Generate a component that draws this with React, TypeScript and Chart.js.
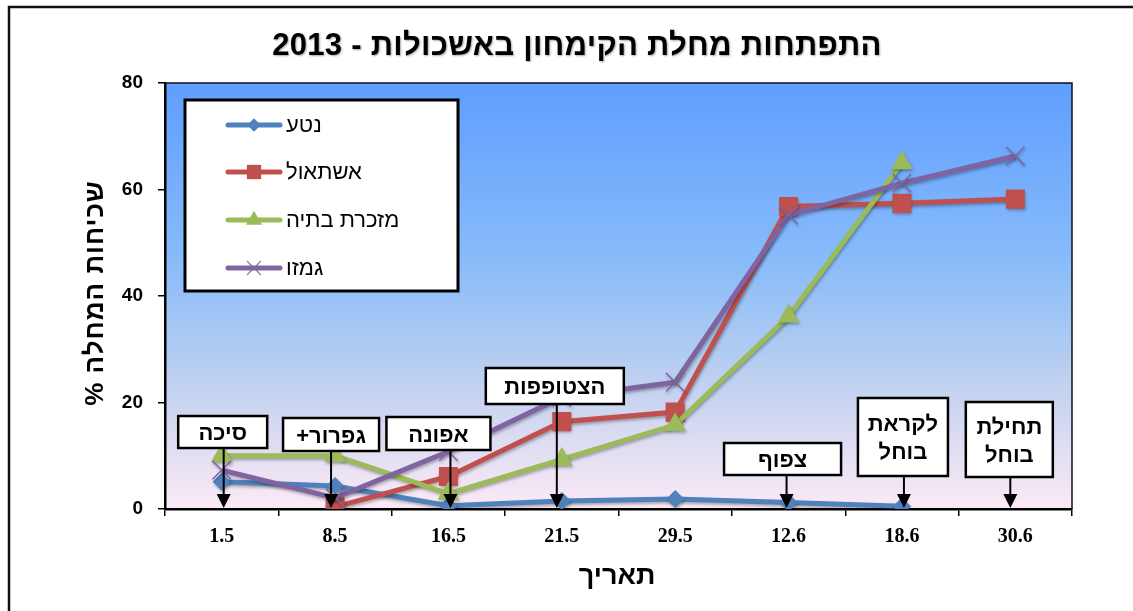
import React, { useEffect, useRef } from 'react';
import { Chart, registerables } from 'chart.js';

Chart.register(...registerables);

// ---------- data ----------
const categories = ['1.5', '8.5', '16.5', '21.5', '29.5', '12.6', '18.6', '30.6'];
const seriesNames = ['נטע', 'אשתאול', 'מזכרת בתיה', 'גמזו'];
const netaValues = [5.1, 4.3, 0.6, 1.5, 1.9, 1.2, 0.5, null];
const eshtaolValues = [null, 0.4, 6.1, 16.4, 18.2, 56.8, 57.4, 58.2];
const mazkeretValues = [10, 10, 2.9, 9.3, 15.8, 36.2, 65, null];
const gimzoValues = [7.3, 2.1, 10.8, 21, 23.8, 55.2, 61.2, 66.3];
const yTicks = [0, 20, 40, 60, 80];
const chartTitle = 'התפתחות מחלת הקימחון באשכולות - 2013';
const xTitle = 'תאריך';
const yTitle = 'שכיחות המחלה %';
const noteLabels = ['סיכה', 'גפרור+', 'אפונה', 'הצטופפות', 'צפוף', 'לקראת\nבוחל', 'תחילת\nבוחל'];
const noteCategories = ['1.5', '8.5', '16.5', '21.5', '12.6', '18.6', '30.6'];

// ---------- styles ----------
const seriesColors = ['#4F81BD', '#C0504D', '#9BBB59', '#8064A2'];
const seriesMarkers = ['rectRot', 'rect', 'triangle', 'crossRot'];
const seriesMarkerSize = [9, 13.5, 12.5, 13];
const noteLayout = [
  { dx: 1, arrowDx: 2, width: 89, top: 416, bottom: 448 },
  { dx: -4, arrowDx: -4, width: 96, top: 418, bottom: 451 },
  { dx: -10, arrowDx: 2, width: 104, top: 417, bottom: 450 },
  { dx: -7, arrowDx: -5, width: 138, top: 368, bottom: 404 },
  { dx: -6, arrowDx: -2, width: 117, top: 443, bottom: 475 },
  { dx: 1, arrowDx: 2, width: 90, top: 398, bottom: 476 },
  { dx: -6, arrowDx: -5, width: 87, top: 402, bottom: 477 },
];
const HEB_SANS = '"Liberation Sans", "DejaVu Sans", Arial, sans-serif';
const NUM_SERIF = '"Liberation Serif", "DejaVu Serif", serif';

function drawMarker(ctx: CanvasRenderingContext2D, style: string, x: number, y: number, r: number, color: string) {
  ctx.save();
  ctx.fillStyle = color;
  ctx.strokeStyle = color;
  ctx.beginPath();
  if (style === 'rectRot') {
    ctx.moveTo(x, y - r);
    ctx.lineTo(x + r, y);
    ctx.lineTo(x, y + r);
    ctx.lineTo(x - r, y);
    ctx.closePath();
    ctx.fill();
  } else if (style === 'rect') {
    const h = r * Math.SQRT1_2;
    ctx.rect(x - h, y - h, 2 * h, 2 * h);
    ctx.fill();
  } else if (style === 'triangle') {
    const s = Math.sin(Math.PI / 3) * r;
    ctx.moveTo(x, y - r);
    ctx.lineTo(x + s, y + r / 2);
    ctx.lineTo(x - s, y + r / 2);
    ctx.closePath();
    ctx.fill();
  } else {
    const h = r * Math.SQRT1_2;
    ctx.lineWidth = 1.2;
    ctx.moveTo(x - h, y - h);
    ctx.lineTo(x + h, y + h);
    ctx.moveTo(x - h, y + h);
    ctx.lineTo(x + h, y - h);
    ctx.stroke();
  }
  ctx.restore();
}

const decorPlugin = {
  id: 'decor',
  beforeDraw(chart: any) {
    const { ctx, chartArea: a, width, height } = chart;
    ctx.save();
    ctx.fillStyle = '#ffffff';
    ctx.fillRect(0, 0, width, height);
    ctx.strokeStyle = '#111';
    ctx.lineWidth = 2.5;
    ctx.beginPath();
    ctx.moveTo(9, height + 2);
    ctx.lineTo(9, 7);
    ctx.lineTo(width + 2, 7);
    ctx.stroke();
    const g = ctx.createLinearGradient(0, a.top, 0, a.bottom);
    g.addColorStop(0, '#5F9EFF');
    g.addColorStop(0.4, '#86BAFA');
    g.addColorStop(0.65, '#B4CDF1');
    g.addColorStop(0.82, '#D9DAF1');
    g.addColorStop(1, '#FCEAF6');
    ctx.fillStyle = g;
    ctx.fillRect(a.left, a.top, a.right - a.left, a.bottom - a.top);
    ctx.restore();
  },
  beforeDatasetDraw(chart: any) {
    const ctx = chart.ctx;
    ctx.save();
    ctx.shadowColor = 'rgba(0,0,0,0.3)';
    ctx.shadowBlur = 3;
    ctx.shadowOffsetX = 1;
    ctx.shadowOffsetY = 2;
  },
  afterDatasetDraw(chart: any) {
    chart.ctx.restore();
  },
  afterDraw(chart: any) {
    const { ctx, chartArea: a } = chart;
    const xs = chart.scales.x;
    ctx.save();
    ctx.strokeStyle = '#111';
    ctx.lineWidth = 1.5;
    ctx.beginPath();
    ctx.moveTo(a.left, a.top);
    ctx.lineTo(a.right, a.top);
    ctx.lineTo(a.right, a.bottom);
    ctx.stroke();

    // annotations
    ctx.direction = 'rtl';
    noteLabels.forEach((label, i) => {
      const L = noteLayout[i];
      const cx = xs.getPixelForValue(categories.indexOf(noteCategories[i]));
      const bx = cx + L.dx;
      const ax = cx + L.arrowDx;
      const tip = a.bottom - 1;
      ctx.strokeStyle = '#000';
      ctx.fillStyle = '#000';
      ctx.lineWidth = 2;
      ctx.beginPath();
      ctx.moveTo(ax, L.bottom);
      ctx.lineTo(ax, tip - 10);
      ctx.stroke();
      ctx.beginPath();
      ctx.moveTo(ax - 7, tip - 14);
      ctx.lineTo(ax + 7, tip - 14);
      ctx.lineTo(ax, tip);
      ctx.closePath();
      ctx.fill();
      ctx.fillStyle = '#fff';
      ctx.fillRect(bx - L.width / 2, L.top, L.width, L.bottom - L.top);
      ctx.lineWidth = 2.5;
      ctx.strokeRect(bx - L.width / 2, L.top, L.width, L.bottom - L.top);
      ctx.fillStyle = '#000';
      ctx.font = 'bold 22px ' + HEB_SANS;
      ctx.textAlign = 'center';
      ctx.textBaseline = 'middle';
      const lines = label.split('\n');
      const mid = (L.top + L.bottom) / 2 + 2;
      const lh = 28;
      lines.forEach((ln, k) => {
        ctx.fillText(ln, bx, mid + (k - (lines.length - 1) / 2) * lh);
      });
    });

    // legend
    ctx.fillStyle = '#fff';
    ctx.fillRect(185, 100, 273, 191);
    ctx.strokeStyle = '#000';
    ctx.lineWidth = 3;
    ctx.strokeRect(185, 100, 273, 191);
    const rows = [125, 172, 220, 268];
    seriesNames.forEach((name, i) => {
      const y = rows[i];
      ctx.strokeStyle = seriesColors[i];
      ctx.lineWidth = 5;
      ctx.lineCap = 'round';
      ctx.beginPath();
      ctx.moveTo(228, y);
      ctx.lineTo(280, y);
      ctx.stroke();
      ctx.lineCap = 'butt';
      drawMarker(ctx, seriesMarkers[i], 254, y, seriesMarkerSize[i] * 0.75, seriesColors[i]);
      ctx.fillStyle = '#000';
      ctx.font = '22px ' + HEB_SANS;
      ctx.textAlign = 'left';
      ctx.textBaseline = 'middle';
      ctx.fillText(name, 286, y + 1);
    });

    // titles
    ctx.fillStyle = '#000';
    ctx.textAlign = 'center';
    ctx.textBaseline = 'middle';
    ctx.save();
    ctx.shadowColor = 'rgba(0,0,0,0.35)';
    ctx.shadowBlur = 2;
    ctx.shadowOffsetX = 1;
    ctx.shadowOffsetY = 1;
    ctx.font = 'bold 31px ' + HEB_SANS;
    (ctx as any).letterSpacing = '0.3px';
    ctx.fillText(chartTitle, 577, 46);
    ctx.restore();
    ctx.font = 'bold 27px ' + HEB_SANS;
    ctx.fillText(xTitle, 617, 577);
    ctx.save();
    ctx.translate(96, 293);
    ctx.rotate(-Math.PI / 2);
    ctx.font = 'bold 26px ' + HEB_SANS;
    (ctx as any).letterSpacing = '1px';
    ctx.fillText(yTitle, 0, 0);
    ctx.restore();
    ctx.restore();
  },
};

export default function App() {
  const ref = useRef<HTMLCanvasElement>(null);
  useEffect(() => {
    const canvas = ref.current!;
    const seriesValues = [netaValues, eshtaolValues, mazkeretValues, gimzoValues];
    const chart = new Chart(canvas, {
      type: 'line',
      data: {
        labels: categories,
        datasets: seriesNames.map((name, i) => ({
          label: name,
          data: seriesValues[i] as any,
          borderColor: seriesColors[i],
          backgroundColor: seriesColors[i],
          borderWidth: 5,
          pointStyle: seriesMarkers[i] as any,
          pointRadius: seriesMarkerSize[i],
          pointBorderWidth: i === 3 ? 1.5 : 0,
          pointBorderColor: seriesColors[i],
          pointBackgroundColor: seriesColors[i],
          tension: 0,
          order: 3 - i,
        })),
      },
      options: {
        responsive: false,
        animation: false,
        events: [],
        layout: { padding: { left: 0, right: 61, top: 83, bottom: 0 } },
        plugins: {
          legend: { display: false },
          title: { display: false },
          tooltip: { enabled: false },
        },
        scales: {
          x: {
            offset: true,
            grid: {
              offset: true,
              drawOnChartArea: false,
              drawTicks: true,
              tickLength: 7,
              color: '#000',
              lineWidth: 1.5,
            },
            border: { color: '#000', width: 2.5 },
            ticks: {
              color: '#000',
              padding: 9,
              maxRotation: 0,
              font: { family: NUM_SERIF, size: 20, weight: 'bold' },
            },
            afterFit: (s: any) => {
              s.height = 102;
            },
          },
          y: {
            min: 0,
            max: 80,
            grid: {
              drawOnChartArea: false,
              drawTicks: true,
              tickLength: 7,
              color: '#000',
              lineWidth: 1.5,
            },
            border: { color: '#000', width: 2.5 },
            ticks: {
              color: '#000',
              padding: 15,
              font: { family: HEB_SANS, size: 19, weight: 'bold' },
            },
            afterBuildTicks: (s: any) => {
              s.ticks = yTicks.map((v) => ({ value: v }));
            },
            afterFit: (s: any) => {
              s.width = 165;
            },
          },
        },
      } as any,
      plugins: [decorPlugin],
    });
    return () => chart.destroy();
  }, []);
  return (
    <div style={{ position: 'absolute', left: 0, top: 0, width: 1133, height: 611, background: '#fff' }}>
      <canvas ref={ref} width={1133} height={611} style={{ display: 'block', width: 1133, height: 611 }} />
    </div>
  );
}
